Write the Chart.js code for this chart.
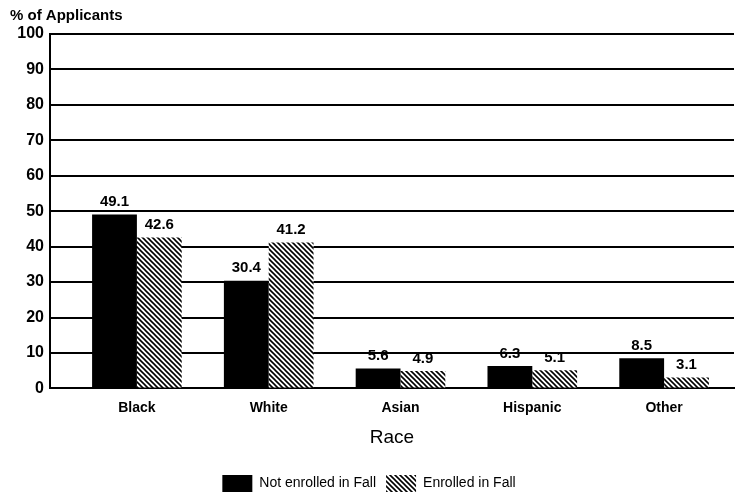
<!DOCTYPE html>
<html>
<head>
<meta charset="utf-8">
<script src="https://cdn.jsdelivr.net/npm/chart.js@4.4.1/dist/chart.umd.min.js"></script>
<style>
  html, body { margin: 0; padding: 0; background: #fff; }
  #wrap { width: 740px; height: 496px; }
</style>
</head>
<body>
<div id="wrap"><canvas id="grafico" width="740" height="496"></canvas></div>
<script>
// datos
const razas = ['Black', 'White', 'Asian', 'Hispanic', 'Other']
const noInscritos = [49.1, 30.4, 5.6, 6.3, 8.5]
const inscritos = [42.6, 41.2, 4.9, 5.1, 3.1]
const ticksY = [0, 10, 20, 30, 40, 50, 60, 70, 80, 90, 100]

// trama diagonal para la segunda serie
function trama() {
  let c = document.createElement('canvas')
  c.width = 5
  c.height = 5
  let g = c.getContext('2d')
  g.fillStyle = '#fff'
  g.fillRect(0, 0, 5, 5)
  g.strokeStyle = '#000'
  g.lineWidth = 1.6
  g.beginPath()
  g.moveTo(-1, -1); g.lineTo(6, 6)
  g.moveTo(-4, 1); g.lineTo(4, 9)
  g.moveTo(1, -4); g.lineTo(9, 4)
  g.stroke()
  return g.createPattern(c, 'repeat')
}
const rayado = trama()

// en el original las categorias empiezan un poco a la derecha del eje
const corrimiento = {
  id: 'corrimiento',
  afterLayout(chart) {
    const x = chart.scales.x
    const area = chart.chartArea
    x._startPixel = area.left + 21
    x._length = area.right - area.left - 25
  }
}

// etiquetas de valor y titulo del eje
const extras = {
  id: 'extras',
  afterDatasetsDraw(chart) {
    const ctx = chart.ctx
    ctx.save()
    ctx.fillStyle = '#000'
    ctx.font = 'bold 15px "Liberation Sans", Arial, sans-serif'
    ctx.textAlign = 'center'
    ctx.textBaseline = 'bottom'
    chart.data.datasets.forEach((ds, i) => {
      chart.getDatasetMeta(i).data.forEach((bar, j) => {
        ctx.fillText(ds.data[j].toFixed(1), bar.x, bar.y - 5)
      })
    })
    ctx.textAlign = 'left'
    ctx.textBaseline = 'middle'
    ctx.fillText('% of Applicants', 10, 16)
    ctx.restore()
  }
}

const ctx = document.getElementById('grafico').getContext('2d')
const grafico = new Chart(ctx, {
  type: 'bar',
  data: {
    labels: razas,
    datasets: [
      {
        label: 'Not enrolled in Fall',
        data: noInscritos,
        backgroundColor: '#000',
        borderWidth: 0
      },
      {
        label: 'Enrolled in Fall',
        data: inscritos,
        backgroundColor: rayado,
        borderWidth: 0
      }
    ]
  },
  options: {
    responsive: false,
    animation: false,
    layout: { padding: { top: 34, right: 6, left: 4, bottom: -6 } },
    datasets: { bar: { barPercentage: 1.0, categoryPercentage: 0.68 } },
    scales: {
      x: {
        grid: { display: false },
        border: { display: true, color: '#000', width: 2 },
        ticks: {
          color: '#000',
          font: { family: '"Liberation Sans", Arial, sans-serif', size: 14, weight: 'bold' },
          padding: 3
        },
        title: {
          display: true,
          text: 'Race',
          color: '#000',
          font: { family: '"Liberation Sans", Arial, sans-serif', size: 19 },
          padding: { top: 7, bottom: 16 }
        }
      },
      y: {
        min: 0,
        max: 100,
        afterFit: (s) => { s.width = 46 },
        afterBuildTicks: (s) => { s.ticks = ticksY.map(v => ({ value: v })) },
        grid: { color: '#000', lineWidth: 2, drawTicks: false },
        border: { display: true, color: '#000', width: 2 },
        ticks: {
          color: '#000',
          padding: 6,
          font: { family: '"Liberation Sans", Arial, sans-serif', size: 16, weight: 'bold' }
        }
      }
    },
    plugins: {
      legend: {
        position: 'bottom',
        labels: {
          color: '#000',
          boxWidth: 30,
          boxHeight: 17,
          padding: 10,
          font: { family: '"Liberation Sans", Arial, sans-serif', size: 14 }
        }
      },
      tooltip: { enabled: false }
    }
  },
  plugins: [corrimiento, extras]
})
</script>
</body>
</html>
